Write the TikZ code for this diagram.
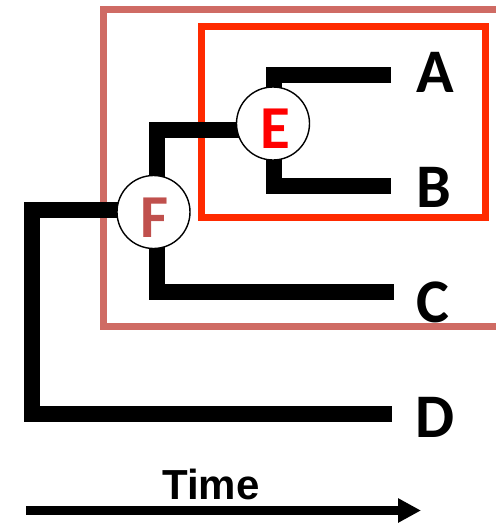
\documentclass[tikz,border=0pt]{standalone}
\usepackage{fontspec}
\setmainfont{Carlito}
\newfontfamily\arialfont{Liberation Sans}
\usetikzlibrary{arrows.meta}
\definecolor{outerrose}{HTML}{CF6B64}
\definecolor{innerred}{HTML}{FF2A00}
\definecolor{ered}{HTML}{FF0000}
\definecolor{frose}{HTML}{C0504D}
\tikzset{
  branch/.style={line width=16pt, line join=miter, line cap=butt},
  anc/.style={circle, draw=black, line width=1.4pt, fill=white, minimum size=73pt, inner sep=0pt},
  ancl/.style={font=\bfseries\fontsize{61}{61}\selectfont, inner sep=0pt},
  leaf/.style={font=\bfseries\fontsize{62}{62}\selectfont, inner sep=0pt, text=black},
  cladebox/.style={line width=7pt, line join=miter}
}
\begin{document}
\begin{tikzpicture}[x=1pt,y=-1pt]
\useasboundingbox (0,0) rectangle (496,523);
% boxes
\draw[cladebox, outerrose] (505,9.5) -- (103.5,9.5) -- (103.5,326.5) -- (505,326.5);
\draw[cladebox, innerred] (201.5,26.5) rectangle (485.5,217.5);
% leaf ends
\coordinate (a) at (391,75);
\coordinate (b) at (391,186);
\coordinate (c) at (394,291.5);
\coordinate (d) at (392,413.5);
\coordinate (ec) at (274,75);
\coordinate (ebc) at (274,186);
\coordinate (fc) at (157,130);
\coordinate (fcc) at (157,291.5);
\coordinate (rc) at (32,209.5);
\coordinate (rcc) at (32,413.5);
% circles positions
\coordinate (epos) at (273,123.5);
\coordinate (fpos) at (153.5,212);
% branches
\draw[branch] (a) -- (ec) -- (ebc) -- (b);
\draw[branch] (epos |- fc) -- (fc) -- (fcc) -- (c);
\draw[branch] (fpos |- rc) -- (rc) -- (rcc) -- (d);
% ancestors
\node[anc] (E) at (epos) {};
\node[ancl, text=ered] (El) at (275,128.5) {E};
\node[anc] (F) at (fpos) {};
\node[ancl, text=frose] (Fl) at (154.5,217.5) {F};
% leaf labels
\node[leaf] (A) at (435,72) {A};
\node[leaf] (B) at (434,187.5) {B};
\node[leaf] (C) at (433,302) {C};
\node[leaf] (D) at (435,417.5) {D};
% time arrow
\coordinate (t0) at (26,510.5);
\coordinate (t1) at (421,510.5);
\draw[line width=9pt, -{Triangle[length=23pt,width=23pt]}] (t0) -- (t1);
\node[font=\arialfont\bfseries\fontsize{42}{42}\selectfont, anchor=base, inner sep=0pt] (T) at (211,499) {Time};
\end{tikzpicture}
\end{document}
